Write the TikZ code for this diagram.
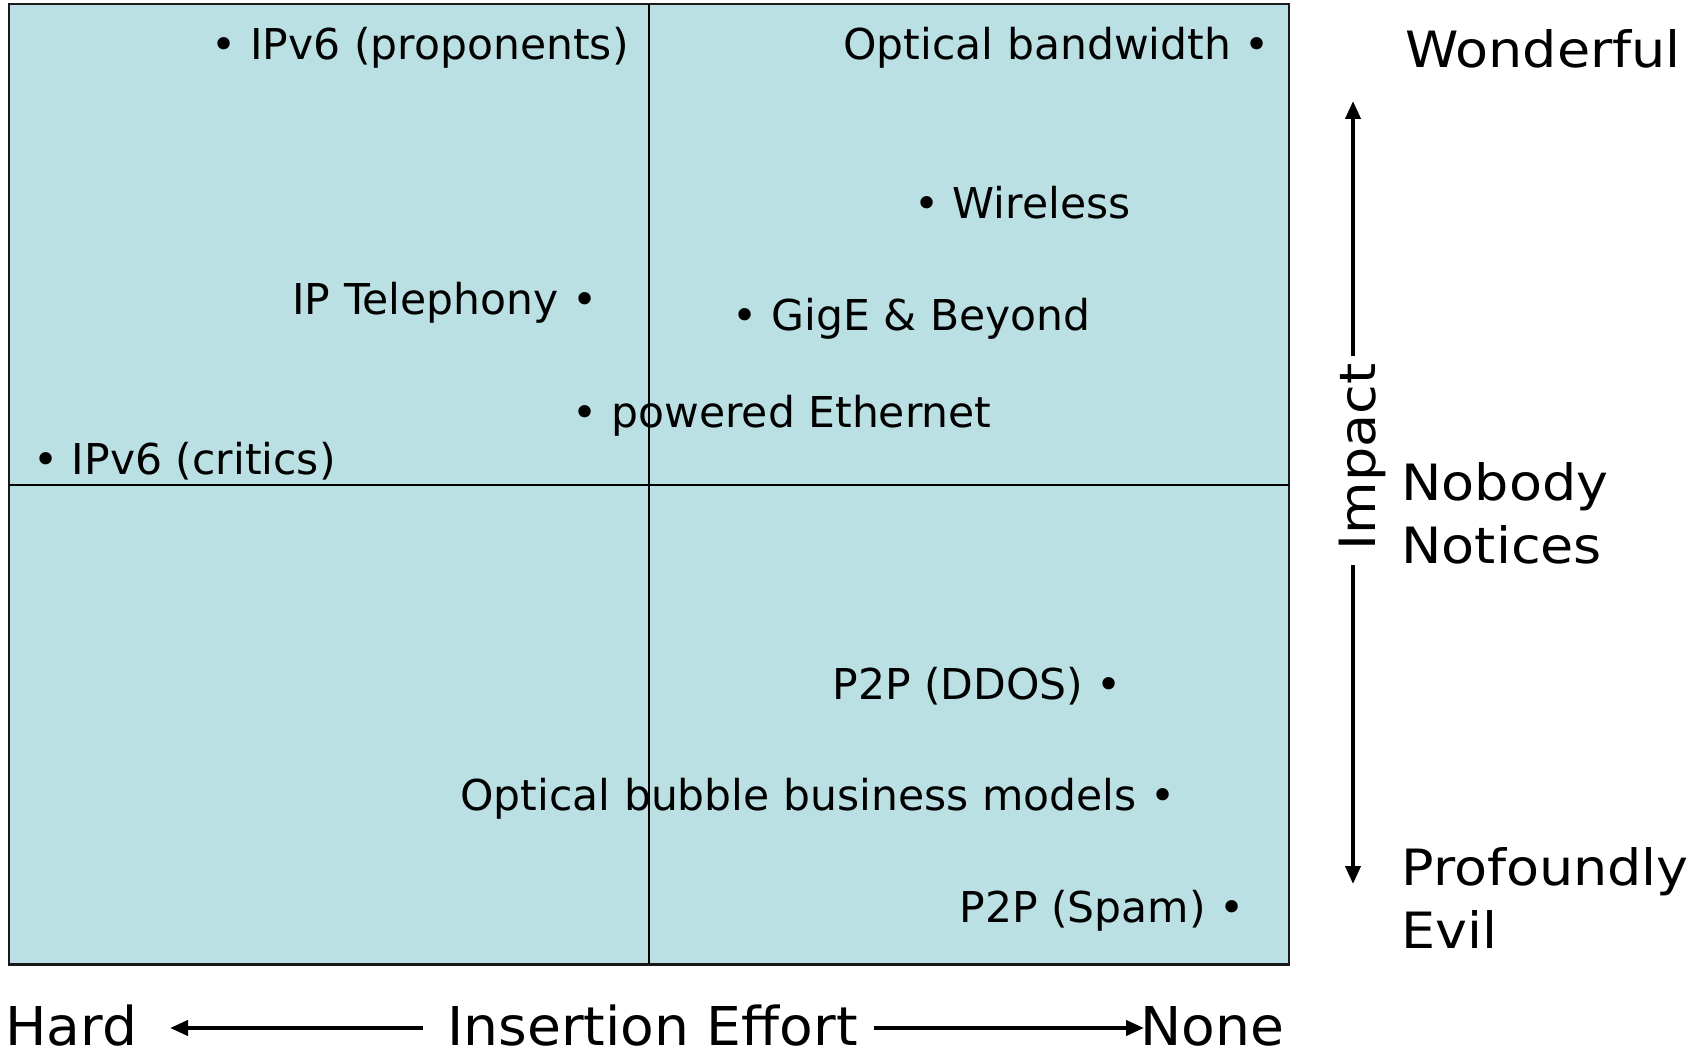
\documentclass[tikz,border=0pt]{standalone}
\usepackage{fontspec}
\setmainfont{DejaVu Sans}
\newfontfamily\widefont[FakeStretch=1.08]{DejaVu Sans}
\newfontfamily\bottomfont[FakeStretch=1.03]{DejaVu Sans}
\usetikzlibrary{arrows.meta}
\definecolor{quad}{RGB}{186,224,227}
\begin{document}
\begin{tikzpicture}[x=0.5pt,y=-0.5pt,
  item/.style={inner sep=0pt, font=\fontsize{21.25}{25}\selectfont},
  rlabel/.style={inner sep=0pt, align=left, font=\widefont\fontsize{25}{31.5}\selectfont},
  blabel/.style={inner sep=0pt, font=\bottomfont\fontsize{26.75}{30}\selectfont},
  axisarrow/.style={line width=2pt, -{Triangle[length=9pt,width=7.5pt]}},
  frame/.style={line width=1.2pt, draw=black!90, fill=quad},
  divider/.style={line width=0.8pt, draw=black},
]
\useasboundingbox (0,0) rectangle (1701,1052);
% quadrant board
\coordinate (tl) at (8.7,4.3);
\coordinate (br) at (1288.8,964.4);
\coordinate (c) at (648.7,485);
\path[frame] (tl) rectangle (br);
\draw[divider] (c |- tl) -- (c |- br);
\draw[divider] (c -| tl) -- (c -| br);
% items
\node[item, anchor=base east] (ipv6p) at (629,60) {• IPv6 (proponents)};
\node[item, anchor=base west] (optbw) at (843,60) {Optical bandwidth •};
\node[item, anchor=base east] (wireless) at (1131,219) {• Wireless};
\node[item, anchor=base west] (iptel) at (292,315) {IP Telephony •};
\node[item, anchor=base east] (gige) at (1091,331) {• GigE \& Beyond};
\node[item, anchor=base east] (poe) at (992,428) {• powered Ethernet};
\node[item, anchor=base east] (ipv6c) at (336,475) {• IPv6 (critics)};
\node[item, anchor=base west] (ddos) at (832,699) {P2P (DDOS) •};
\node[item, anchor=base west] (bubble) at (460,810) {Optical bubble business models •};
\node[item, anchor=base west] (spam) at (959,922) {P2P (Spam) •};
% right scale
\node[rlabel, anchor=base west] (wond) at (1405,68) {Wonderful};
\node[rlabel, anchor=base west] (nobody) at (1401,564) {Nobody\\Notices};
\node[rlabel, anchor=base west] (evil) at (1401,948) {Profoundly\\Evil};
\node[rlabel, rotate=90, anchor=base] (impact) at (1375,457) {Impact};
\coordinate (uptop) at (1353,101);
\coordinate (upbot) at (1353,356);
\coordinate (dntop) at (1353,565);
\coordinate (dnbot) at (1353,884);
\draw[axisarrow] (upbot) -- (uptop);
\draw[axisarrow] (dntop) -- (dnbot);
% bottom scale
\node[blabel, anchor=base west] (hard) at (5,1045) {Hard};
\node[blabel, anchor=base west] (effort) at (447,1045) {Insertion Effort};
\node[blabel, anchor=base west] (none) at (1140,1045) {None};
\coordinate (lstart) at (423,1028);
\coordinate (ltip) at (170,1028);
\coordinate (rstart) at (874,1028);
\coordinate (rtip) at (1144,1028);
\draw[axisarrow] (lstart) -- (ltip);
\draw[axisarrow] (rstart) -- (rtip);
\end{tikzpicture}
\end{document}
